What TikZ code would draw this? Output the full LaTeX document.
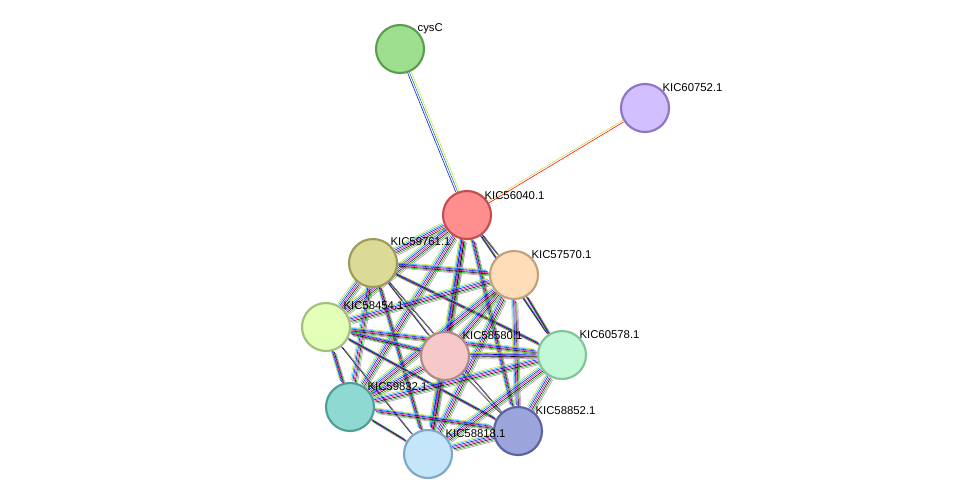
\documentclass[tikz,border=0pt]{standalone}
\usepackage{fontspec}
\setmainfont{Liberation Sans}
\usetikzlibrary{backgrounds}
\definecolor{cysF}{HTML}{9EDE8F}\definecolor{cysB}{HTML}{5A9E4E}
\definecolor{vF}{HTML}{D2BFFF}\definecolor{vB}{HTML}{8E74C4}
\definecolor{aF}{HTML}{FF8F8F}\definecolor{aB}{HTML}{C44D4D}
\definecolor{bF}{HTML}{DCDA97}\definecolor{bB}{HTML}{9E9A5A}
\definecolor{cF}{HTML}{FFDDB9}\definecolor{cB}{HTML}{C4A07A}
\definecolor{dF}{HTML}{E3FFB8}\definecolor{dB}{HTML}{A0C07C}
\definecolor{eF}{HTML}{F7C8C8}\definecolor{eB}{HTML}{B08888}
\definecolor{fF}{HTML}{C3F8D6}\definecolor{fB}{HTML}{7FC49A}
\definecolor{gF}{HTML}{8EDAD3}\definecolor{gB}{HTML}{4E9E94}
\definecolor{hF}{HTML}{9CA5DB}\definecolor{hB}{HTML}{5A639E}
\definecolor{iF}{HTML}{C5E6FA}\definecolor{iB}{HTML}{80A8C4}
\definecolor{ygreen}{HTML}{C8E02C}
\tikzset{
  prot/.style={draw, circle, line width=1.6pt, minimum size=36pt, inner sep=0pt},
  lab/.style={font=\fontsize{8.5pt}{9pt}\selectfont, anchor=south west, inner sep=1pt},
}
\begin{document}
\begin{tikzpicture}[x=0.75pt, y=-0.75pt]
\useasboundingbox (0,0) rectangle (975,500);
\node[prot, fill=cysF, draw=cysB] (cysC) at (400,49) {};
\node[prot, fill=vF, draw=vB] (752) at (645,108) {};
\node[prot, fill=aF, draw=aB] (040) at (467,215) {};
\node[prot, fill=bF, draw=bB] (761) at (373,263) {};
\node[prot, fill=cF, draw=cB] (570) at (514,275) {};
\node[prot, fill=dF, draw=dB] (454) at (326,327) {};
\node[prot, fill=eF, draw=eB] (580) at (445,356) {};
\node[prot, fill=fF, draw=fB] (578) at (562,355) {};
\node[prot, fill=gF, draw=gB] (832) at (350,407) {};
\node[prot, fill=hF, draw=hB] (852) at (518,431) {};
\node[prot, fill=iF, draw=iB] (818) at (428,454) {};

\node[lab] at (416,35) {cysC};
\node[lab] at (661,93) {KIC60752.1};
\node[lab] at (483,201) {KIC56040.1};
\node[lab] at (389,247) {KIC59761.1};
\node[lab] at (530,260) {KIC57570.1};
\node[lab] at (342,311) {KIC58454.1};
\node[lab] at (461,341) {KIC58580.1};
\node[lab] at (578,340) {KIC60578.1};
\node[lab] at (366,392) {KIC59832.1};
\node[lab] at (534,416) {KIC58852.1};
\node[lab] at (444,439) {KIC58818.1};

\begin{scope}[on background layer, line width=0.8pt]
\foreach \c/\s in {blue/-1.5, teal/0, ygreen/1.5}
  \draw[\c, transform canvas={xshift=\s pt}] (cysC) -- (040);
\foreach \c/\s in {red/-0.8, ygreen/0.8}
  \draw[\c, transform canvas={yshift=\s pt}] (040) -- (752);
\foreach \a/\b in {040/761,040/570,040/454,040/580,040/578,040/832,040/852,040/818,
  761/570,761/454,761/580,761/578,761/832,761/852,761/818,
  570/454,570/580,570/578,570/832,570/852,570/818,
  454/580,454/578,454/832,454/852,454/818,
  580/578,580/832,580/852,580/818,
  578/832,578/852,578/818,
  832/852,832/818,852/818}
  \foreach \c/\s in {ygreen/-2.4, cyan/-1.6, blue/-0.8, magenta/0, black/0.8, green!70!black/1.6, violet!50/2.4}
    \draw[\c, transform canvas={xshift=\s pt, yshift=-\s pt}] (\a) -- (\b);
\end{scope}
\end{tikzpicture}
\end{document}
